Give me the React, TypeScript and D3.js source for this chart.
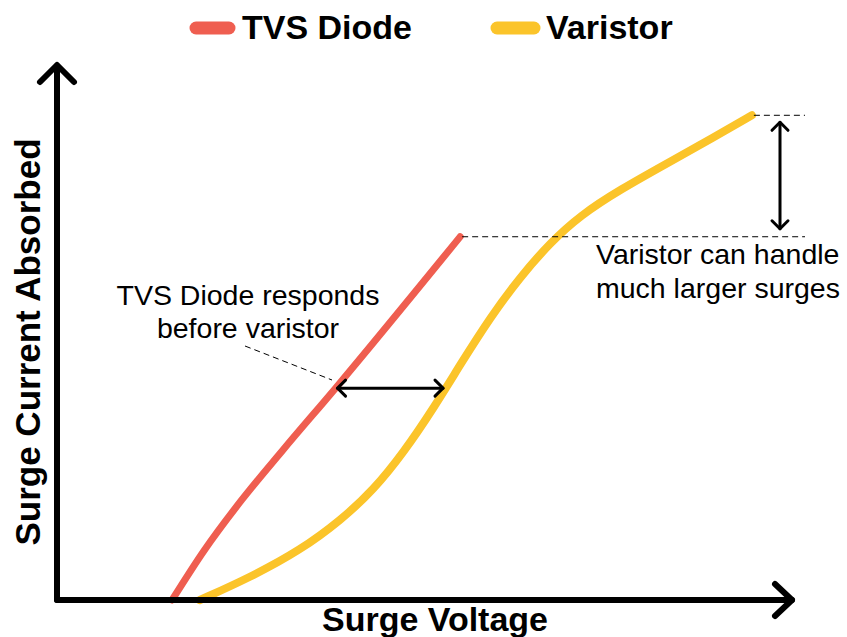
import React from 'react'
import * as d3 from 'd3'

// curve readings, arbitrary units (0-100 on both axes)
const tvsVoltage = [15.7, 20.1, 25.2, 30.8, 38.0, 55.0]
const tvsCurrent = [0, 9.3, 18.7, 28.0, 39.6, 67.9]

const varVoltage = [19.5, 26.3, 33.2, 38.8, 43.2, 47.3, 51.3, 55.2, 59.1, 63.2, 67.3, 71.4, 76.8, 83.6, 89.5, 94.8]
const varCurrent = [0, 4.2, 9.3, 15.0, 20.6, 27.6, 35.7, 44.4, 52.8, 60.4, 66.8, 71.9, 76.7, 81.9, 86.4, 90.6]

const seriesNames = ['TVS Diode', 'Varistor']
const seriesColors = ['#ef5e50', '#fbc42a']

const W = 847
const H = 637
const RED = seriesColors[0]
const YELLOW = seriesColors[1]

const App = () => {
  const x = d3.scaleLinear().domain([0, 100]).range([57, 790])
  const y = d3.scaleLinear().domain([0, 100]).range([600, 65])

  const tvsLine = d3.line<[number, number]>()
    .x(d => x(d[0]))
    .y(d => y(d[1]))
    .curve(d3.curveMonotoneX)

  // basis smooths out the reading noise on the S-shaped curve
  const varLine = d3.line<[number, number]>()
    .x(d => x(d[0]))
    .y(d => y(d[1]))
    .curve(d3.curveBasis)

  const tvs = tvsVoltage.map((v, i) => [v, tvsCurrent[i]] as [number, number])
  const vari = varVoltage.map((v, i) => [v, varCurrent[i]] as [number, number])

  const tvsTop = tvs[tvs.length - 1]
  const varTop = vari[vari.length - 1]

  // horizontal gap arrow sits at the 5th TVS reading
  const gapY = y(tvsCurrent[4])
  const gapX1 = x(tvsVoltage[4])
  const gapX2 = 445
  const vArrowX = 780
  const dashEnd = 805

  const ah = 8 // arrowhead size
  const bold = { fontFamily: '"Liberation Sans", Arial, sans-serif', fontWeight: 700 }
  const reg = { fontFamily: '"Liberation Sans", Arial, sans-serif', fontWeight: 400 }

  return (
    <svg width={W} height={H} style={{ position: 'absolute', left: 0, top: 0, background: '#fff' }}>
      {/* legend */}
      <g>
        <line x1={196} x2={229} y1={28} y2={28} stroke={RED} strokeWidth={13} strokeLinecap="round" />
        <text x={242} y={39} fontSize={34} {...bold}>{seriesNames[0]}</text>
        <line x1={497} x2={534} y1={28} y2={28} stroke={YELLOW} strokeWidth={13} strokeLinecap="round" />
        <text x={546} y={39} fontSize={34} {...bold}>{seriesNames[1]}</text>
      </g>

      {/* curves */}
      <path d={varLine(vari) ?? ''} fill="none" stroke={YELLOW} strokeWidth={8} strokeLinecap="round" />
      <path d={tvsLine(tvs) ?? ''} fill="none" stroke={RED} strokeWidth={7} strokeLinecap="round" />

      {/* axes */}
      <g stroke="#000" strokeWidth={6} fill="none" strokeLinecap="round" strokeLinejoin="round">
        <path d={`M${x(0)},${y(0)} L${x(0)},${y(100) + 1}`} />
        <path d={`M${x(0) - 17},${y(100) + 17} L${x(0)},${y(100)} L${x(0) + 17},${y(100) + 17}`} />
        <path d={`M${x(0)},${y(0)} L${x(100) + 2},${y(0)}`} />
        <path d={`M${x(100) - 15},${y(0) - 16} L${x(100) + 2},${y(0)} L${x(100) - 15},${y(0) + 16}`} />
      </g>

      {/* dashed reference lines */}
      <g stroke="#000" strokeWidth={1} strokeDasharray="6,4">
        <line x1={x(tvsTop[0]) + 2} x2={dashEnd} y1={y(tvsTop[1])} y2={y(tvsTop[1])} />
        <line x1={x(varTop[0]) + 2} x2={dashEnd} y1={y(varTop[1])} y2={y(varTop[1])} />
        <line x1={245} y1={346} x2={332} y2={380} />
      </g>

      {/* arrows */}
      <g stroke="#000" strokeWidth={3} fill="none" strokeLinecap="round" strokeLinejoin="round">
        <path d={`M${gapX1 + 2},${gapY} L${gapX2 - 2},${gapY}`} />
        <path d={`M${gapX1 + 2 + ah},${gapY - ah} L${gapX1 + 2},${gapY} L${gapX1 + 2 + ah},${gapY + ah}`} />
        <path d={`M${gapX2 - 2 - ah},${gapY - ah} L${gapX2 - 2},${gapY} L${gapX2 - 2 - ah},${gapY + ah}`} />
        <path d={`M${vArrowX},${y(varTop[1]) + 7} L${vArrowX},${y(tvsTop[1]) - 8}`} />
        <path d={`M${vArrowX - ah},${y(varTop[1]) + 7 + ah} L${vArrowX},${y(varTop[1]) + 7} L${vArrowX + ah},${y(varTop[1]) + 7 + ah}`} />
        <path d={`M${vArrowX - ah},${y(tvsTop[1]) - 8 - ah} L${vArrowX},${y(tvsTop[1]) - 8} L${vArrowX + ah},${y(tvsTop[1]) - 8 - ah}`} />
      </g>

      {/* annotation text */}
      <text x={248} y={305} fontSize={28.5} textAnchor="middle" {...reg}>TVS Diode responds</text>
      <text x={248} y={338} fontSize={28.5} textAnchor="middle" {...reg}>before varistor</text>
      <text x={596} y={264} fontSize={28.5} {...reg}>Varistor can handle</text>
      <text x={596} y={298} fontSize={28.5} {...reg}>much larger surges</text>

      {/* axis titles */}
      <text x={435} y={631} fontSize={34} textAnchor="middle" {...bold}>Surge Voltage</text>
      <text transform={`translate(40,342) rotate(-90)`} fontSize={35} textAnchor="middle" {...bold}>Surge Current Absorbed</text>
    </svg>
  )
}

export default App
